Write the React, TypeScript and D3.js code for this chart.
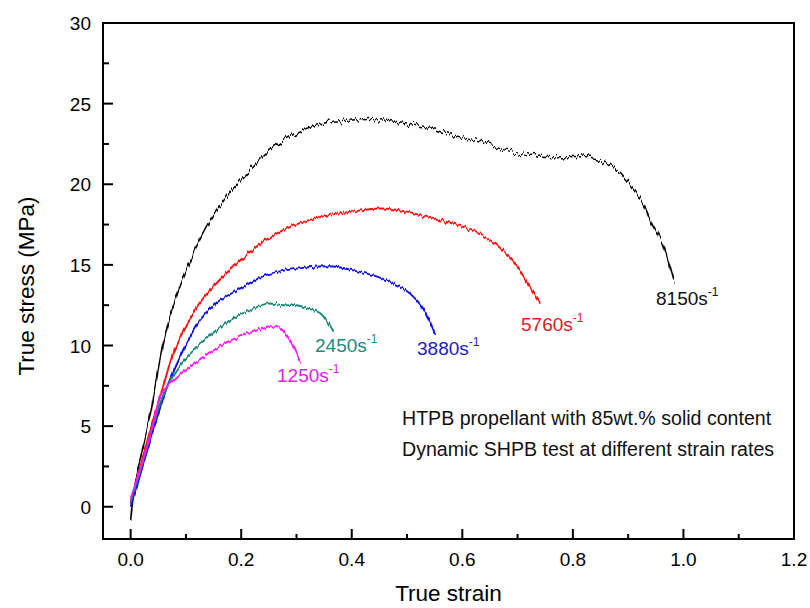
import React from "react";
import * as d3 from "d3";

const W = 810;
const H = 608;

const xTicks = [0, 0.2, 0.4, 0.6, 0.8, 1.0, 1.2];
const xMinor = [0.1, 0.3, 0.5, 0.7, 0.9, 1.1];
const yTicks = [0, 5, 10, 15, 20, 25, 30];
const yMinor = [2.5, 7.5, 12.5, 17.5, 22.5, 27.5];

const strain8150 = [0, 0.008, 0.02, 0.036, 0.06, 0.085, 0.108, 0.145, 0.18, 0.217, 0.259, 0.307, 0.367, 0.41, 0.452, 0.5, 0.542, 0.59, 0.632, 0.68, 0.723, 0.77, 0.813, 0.845, 0.862, 0.885, 0.909, 0.93, 0.945, 0.96, 0.97, 0.983];
const stress8150 = [-1.0, 1.5, 3.3, 5.8, 10.3, 13.3, 15.3, 17.8, 19.5, 20.9, 22.3, 23.3, 23.9, 24.0, 24.0, 23.8, 23.5, 23.0, 22.6, 22.1, 21.8, 21.7, 21.7, 21.5, 21.3, 20.7, 19.7, 18.6, 17.4, 16.5, 15.5, 13.9];

const strain5760 = [0, 0.02, 0.04, 0.06, 0.078, 0.1, 0.126, 0.186, 0.247, 0.307, 0.361, 0.4, 0.452, 0.5, 0.542, 0.59, 0.632, 0.66, 0.687, 0.705, 0.723, 0.741];
const stress5760 = [0.2, 2.8, 5.3, 7.6, 9.6, 11.2, 12.7, 14.9, 16.6, 17.6, 18.1, 18.3, 18.5, 18.3, 17.9, 17.5, 16.9, 16.3, 15.4, 14.6, 13.6, 12.6];

const strain3880 = [0, 0.015, 0.036, 0.054, 0.07, 0.096, 0.126, 0.157, 0.186, 0.217, 0.247, 0.307, 0.367, 0.41, 0.452, 0.49, 0.506, 0.525, 0.537, 0.551];
const stress3880 = [0, 1.7, 4.2, 6.2, 7.8, 9.8, 11.6, 12.7, 13.3, 13.9, 14.4, 14.8, 14.9, 14.6, 14.2, 13.6, 13.2, 12.5, 11.8, 10.7];

const strain2450 = [0, 0.02, 0.04, 0.06, 0.08, 0.1, 0.126, 0.157, 0.186, 0.217, 0.247, 0.276, 0.3, 0.32, 0.343, 0.355, 0.367];
const stress2450 = [0.3, 2.5, 5.0, 7.0, 8.3, 9.2, 10.1, 11.0, 11.7, 12.2, 12.6, 12.5, 12.5, 12.3, 12.0, 11.5, 10.8];

const strain1250 = [0, 0.02, 0.04, 0.054, 0.07, 0.096, 0.126, 0.163, 0.186, 0.217, 0.247, 0.265, 0.283, 0.295, 0.307];
const stress1250 = [0.5, 2.6, 5.0, 6.9, 7.6, 8.4, 9.1, 10.0, 10.4, 10.8, 11.1, 11.2, 10.6, 9.9, 9.0];

const rateLabels = ["8150", "5760", "3880", "2450", "1250"];

const series = [
  { name: rateLabels[0], xs: strain8150, ys: stress8150, color: "#000000", label: "#111111", lx: 656, ly: 305, sw: 1.5, f: "noiseBig" },
  { name: rateLabels[1], xs: strain5760, ys: stress5760, color: "#ff1010", label: "#e01a1e", lx: 521, ly: 331, sw: 1.9, f: "noiseSmall" },
  { name: rateLabels[2], xs: strain3880, ys: stress3880, color: "#1010e8", label: "#1c1cc8", lx: 417, ly: 355, sw: 1.9, f: "noiseSmall" },
  { name: rateLabels[3], xs: strain2450, ys: stress2450, color: "#16887a", label: "#1f8a7e", lx: 315, ly: 352, sw: 1.9, f: "noiseSmall" },
  { name: rateLabels[4], xs: strain1250, ys: stress1250, color: "#ff14ff", label: "#e020e0", lx: 277, ly: 382, sw: 1.9, f: "noiseSmall" },
];

const noteLines = [
  "HTPB propellant with 85wt.% solid content",
  "Dynamic SHPB test at different strain rates",
];

const FONT = "Liberation Sans, Arial, Helvetica, sans-serif";

function NoiseFilter({ id, scale, seed, freq }: { id: string; scale: number; seed: number; freq: string }) {
  return (
    <filter id={id} filterUnits="userSpaceOnUse" x={0} y={0} width={W} height={H}>
      <feTurbulence type="fractalNoise" baseFrequency={freq} numOctaves={2} seed={seed} result="t" />
      <feColorMatrix
        in="t"
        type="matrix"
        values="0 0 0 0 0.5  0 1 0 0 0  0 0 0 0 0  0 0 0 0 1"
        result="m"
      />
      <feDisplacementMap in="SourceGraphic" in2="m" scale={scale} xChannelSelector="R" yChannelSelector="G" />
    </filter>
  );
}

export default function App() {
  const x = d3.scaleLinear().domain([-0.05, 1.2]).range([103, 794]);
  const y = d3.scaleLinear().domain([-2, 30]).range([539, 23]);
  const line = d3
    .line<[number, number]>()
    .x((d) => x(d[0]))
    .y((d) => y(d[1]))
    .curve(d3.curveCatmullRom.alpha(0.5));

  return (
    <svg width={W} height={H} style={{ position: "absolute", left: 0, top: 0, background: "#fff" }} fontFamily={FONT}>
      <defs>
        <NoiseFilter id="noiseBig" scale={12} seed={4} freq="0.4 0.01" />
        <NoiseFilter id="noiseSmall" scale={6} seed={7} freq="0.45 0.01" />
      </defs>
      <rect x={0} y={0} width={W} height={H} fill="#fff" />
      {series.map((s) => (
        <path
          key={s.name}
          d={line(s.xs.map((v, i) => [v, s.ys[i]] as [number, number])) || ""}
          fill="none"
          stroke={s.color}
          strokeWidth={s.sw}
          strokeLinejoin="round"
          filter={`url(#${s.f})`}
        />
      ))}
      {/* frame */}
      <rect x={x(-0.05)} y={y(30)} width={x(1.2) - x(-0.05)} height={y(-2) - y(30)} fill="none" stroke="#000" strokeWidth={2} />
      {/* bottom ticks */}
      {xTicks.map((t) => (
        <g key={"xt" + t}>
          <line x1={x(t)} x2={x(t)} y1={y(-2)} y2={y(-2) - 10} stroke="#000" strokeWidth={2} />
          <text x={x(t)} y={566} textAnchor="middle" fontSize={19}>
            {t.toFixed(1)}
          </text>
        </g>
      ))}
      {xMinor.map((t) => (
        <line key={"xm" + t} x1={x(t)} x2={x(t)} y1={y(-2)} y2={y(-2) - 5} stroke="#000" strokeWidth={2} />
      ))}
      {/* left ticks */}
      {yTicks.map((t) => (
        <g key={"yt" + t}>
          <line x1={x(-0.05)} x2={x(-0.05) + 10} y1={y(t)} y2={y(t)} stroke="#000" strokeWidth={2} />
          <text x={91} y={y(t) + 7} textAnchor="end" fontSize={19}>
            {t}
          </text>
        </g>
      ))}
      {yMinor.map((t) => (
        <line key={"ym" + t} x1={x(-0.05)} x2={x(-0.05) + 6} y1={y(t)} y2={y(t)} stroke="#000" strokeWidth={2} />
      ))}
      {/* axis titles */}
      <text x={448.5} y={601} textAnchor="middle" fontSize={22.5}>
        True strain
      </text>
      <text transform="translate(34,286) rotate(-90)" textAnchor="middle" fontSize={22.5}>
        True stress (MPa)
      </text>
      {/* curve labels */}
      {series.map((s) => (
        <text key={"l" + s.name} x={s.lx} y={s.ly} fontSize={19} fill={s.label}>
          {s.name}s
          <tspan dy={-9} fontSize={12}>
            -1
          </tspan>
        </text>
      ))}
      {/* notes */}
      {noteLines.map((t, i) => (
        <text key={t} x={402} y={425 + i * 31} fontSize={19.6} fill="#111">
          {t}
        </text>
      ))}
    </svg>
  );
}
